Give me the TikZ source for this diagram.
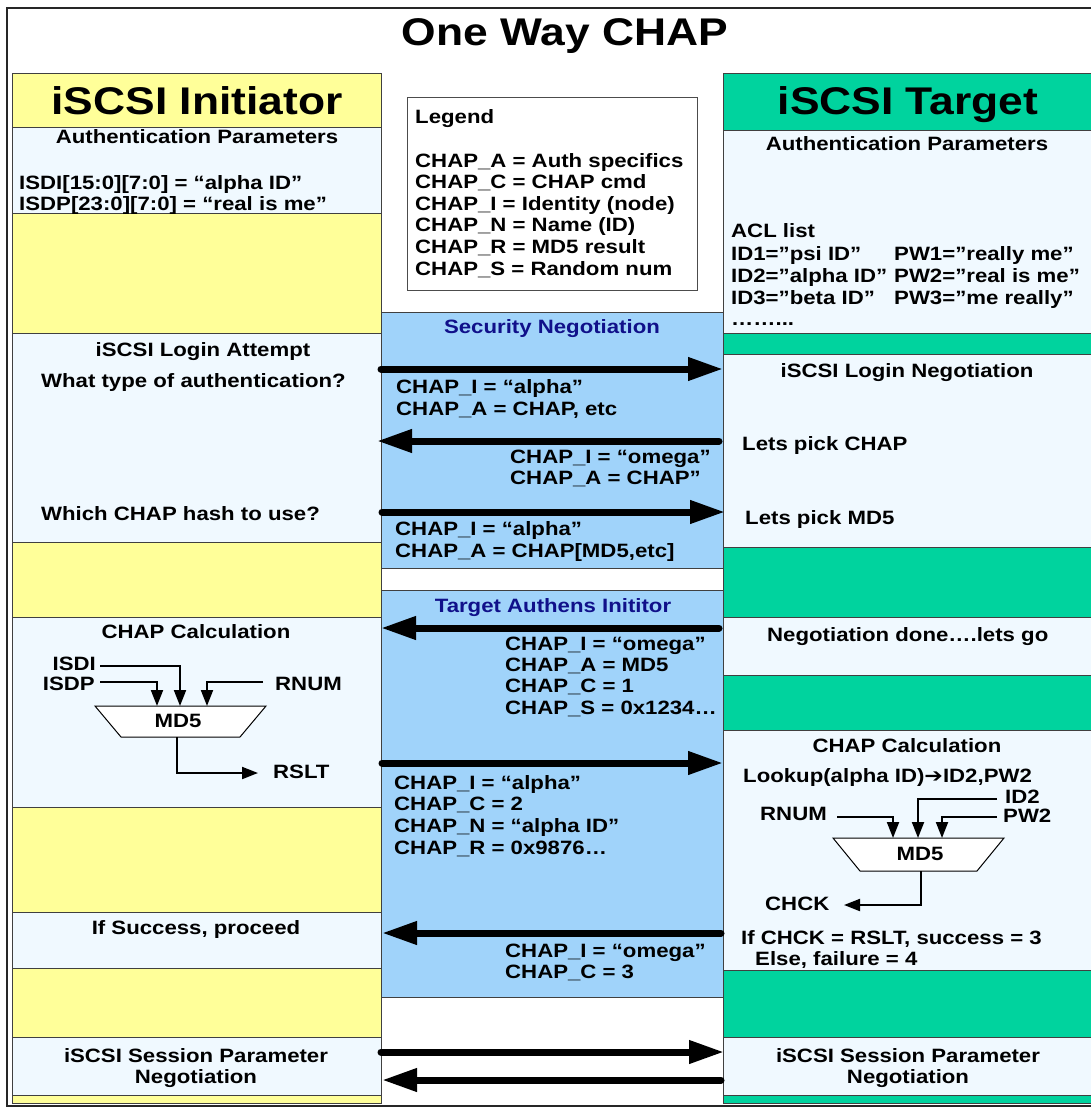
\documentclass[tikz,border=0pt]{standalone}
\usepackage{fontspec}
\setmainfont{Liberation Sans}[FakeStretch=1.15]
\newfontfamily\symfont{DejaVu Sans}[FakeStretch=1.15]
\usetikzlibrary{arrows.meta}
\definecolor{ylw}{HTML}{FFFF99}
\definecolor{lite}{HTML}{F0F9FF}
\definecolor{grn}{HTML}{00D39E}
\definecolor{blu}{HTML}{A0D3FA}
\definecolor{navytxt}{HTML}{10108A}
\definecolor{bord}{HTML}{404040}
\begin{document}
\begin{tikzpicture}[x=1pt,y=-1pt,
  pnl/.style={draw=bord, line width=1pt, inner sep=0pt, outer sep=0pt, anchor=north west},
  txt/.style={inner sep=0pt, anchor=base west, font=\bfseries\fontsize{19.3}{23}\selectfont},
  ctxt/.style={txt, anchor=base},
  big/.style={inner sep=0pt, anchor=base, font=\bfseries\fontsize{38.6}{44}\selectfont},
  msg/.style={line width=7pt, line cap=round, -{Triangle[length=35pt,width=22pt]}},
  sig/.style={line width=2pt, -{Triangle[length=16pt,width=12pt]}}]
\useasboundingbox (0,0) rectangle (1091,1108);
% outer frame
\node[pnl, draw=black!85, line width=2pt, minimum width=1110, minimum height=1098] (frame) at (7,8) {};
\node[big] (title) at (565,46) {One Way CHAP};
% middle blue boxes
\node[pnl, fill=blu, minimum width=342, minimum height=256] (M1) at (381,312) {};
\node[pnl, fill=blu, minimum width=342, minimum height=407] (M2) at (381,590) {};
% left column
\node[pnl, fill=ylw,  minimum width=369, minimum height=53]  (L1) at (12,74) {};
\node[pnl, fill=lite, minimum width=369, minimum height=86]  (L2) at (12,127) {};
\node[pnl, fill=ylw,  minimum width=369, minimum height=120] (L3) at (12,213) {};
\node[pnl, fill=lite, minimum width=369, minimum height=209] (L4) at (12,333) {};
\node[pnl, fill=ylw,  minimum width=369, minimum height=75]  (L5) at (12,542) {};
\node[pnl, fill=lite, minimum width=369, minimum height=190] (L6) at (12,617) {};
\node[pnl, fill=ylw,  minimum width=369, minimum height=105] (L7) at (12,807) {};
\node[pnl, fill=lite, minimum width=369, minimum height=56]  (L8) at (12,912) {};
\node[pnl, fill=ylw,  minimum width=369, minimum height=69]  (L9) at (12,968) {};
\node[pnl, fill=lite, minimum width=369, minimum height=58]  (L10) at (12,1037) {};
\node[pnl, fill=ylw,  minimum width=369, minimum height=8]   (L11) at (12,1095) {};
% right column
\node[pnl, fill=grn,  minimum width=390, minimum height=56]  (R1) at (723,74) {};
\node[pnl, fill=lite, minimum width=390, minimum height=203] (R2) at (723,130) {};
\node[pnl, fill=grn,  minimum width=390, minimum height=21]  (R3) at (723,333) {};
\node[pnl, fill=lite, minimum width=390, minimum height=193] (R4) at (723,354) {};
\node[pnl, fill=grn,  minimum width=390, minimum height=70]  (R5) at (723,547) {};
\node[pnl, fill=lite, minimum width=390, minimum height=58]  (R6) at (723,617) {};
\node[pnl, fill=grn,  minimum width=390, minimum height=55]  (R7) at (723,675) {};
\node[pnl, fill=lite, minimum width=390, minimum height=240] (R8) at (723,730) {};
\node[pnl, fill=grn,  minimum width=390, minimum height=67]  (R9) at (723,970) {};
\node[pnl, fill=lite, minimum width=390, minimum height=58]  (R10) at (723,1037) {};
\node[pnl, fill=grn,  minimum width=390, minimum height=8]   (R11) at (723,1095) {};
% legend
\node[pnl, draw=black!70, fill=white, minimum width=290, minimum height=193] (legend) at (407,97) {};
\node[txt] (lg0) at (415,123) {Legend};
\node[txt] (lg1) at (415,167) {CHAP\_A = Auth specifics};
\node[txt] (lg2) at (415,188.6) {CHAP\_C = CHAP cmd};
\node[txt] (lg3) at (415,210.2) {CHAP\_I = Identity (node)};
\node[txt] (lg4) at (415,231.8) {CHAP\_N = Name (ID)};
\node[txt] (lg5) at (415,253.4) {CHAP\_R = MD5 result};
\node[txt] (lg6) at (415,275) {CHAP\_S = Random num};
% headers
\node[big] (hInit) at (197,114) {iSCSI Initiator};
\node[big] (hTarg) at (908,114) {iSCSI Target};
% auth params
\node[ctxt] (apL) at (197,143) {Authentication Parameters};
\node[txt] (isdiP) at (19,189) {ISDI[15:0][7:0] = “alpha ID”};
\node[txt] (isdpP) at (19,210) {ISDP[23:0][7:0] = “real is me”};
\node[ctxt] (apR) at (907,150) {Authentication Parameters};
\node[txt] (acl) at (731,237) {ACL list};
\node[txt] (id1) at (731,260) {ID1=”psi ID”};
\node[txt] (pw1) at (894,260) {PW1=”really me”};
\node[txt] (id2) at (731,282) {ID2=”alpha ID”};
\node[txt] (pw2) at (894,282) {PW2=”real is me”};
\node[txt] (id3) at (731,304) {ID3=”beta ID”};
\node[txt] (pw3) at (894,304) {PW3=”me really”};
\node[txt] (dots) at (731,325) {……...};
% security negotiation
\node[ctxt, text=navytxt] (secneg) at (552,333) {Security Negotiation};
\node[ctxt] (login) at (203,356) {iSCSI Login Attempt};
\node[txt] (what) at (41,387) {What type of authentication?};
\node[ctxt] (loginneg) at (907,377) {iSCSI Login Negotiation};
\node[txt] (m1a) at (396,393) {CHAP\_I = “alpha”};
\node[txt] (m1b) at (396,415) {CHAP\_A = CHAP, etc};
\node[txt] (m2a) at (510,463) {CHAP\_I = “omega”};
\node[txt] (m2b) at (510,484) {CHAP\_A = CHAP”};
\node[txt] (pickchap) at (742,450) {Lets pick CHAP};
\node[txt] (which) at (41,520) {Which CHAP hash to use?};
\node[txt] (pickmd5) at (745,524) {Lets pick MD5};
\node[txt] (m3a) at (395,535) {CHAP\_I = “alpha”};
\node[txt] (m3b) at (395,557) {CHAP\_A = CHAP[MD5,etc]};
% target authenticates initiator
\node[ctxt, text=navytxt] (tauth) at (553,612) {Target Authens Inititor};
\node[ctxt] (calcL) at (196,638) {CHAP Calculation};
\node[txt] (negdone) at (767,641) {Negotiation done….lets go};
\node[txt] (m4a) at (505,650) {CHAP\_I = “omega”};
\node[txt] (m4b) at (505,671) {CHAP\_A = MD5};
\node[txt] (m4c) at (505,692.5) {CHAP\_C = 1};
\node[txt] (m4d) at (505,714) {CHAP\_S = 0x1234…};
\node[txt] (m5a) at (394,789) {CHAP\_I = “alpha”};
\node[txt] (m5b) at (394,810.5) {CHAP\_C = 2};
\node[txt] (m5c) at (394,832) {CHAP\_N = “alpha ID”};
\node[txt] (m5d) at (394,854) {CHAP\_R = 0x9876…};
% left MD5 block
\node[txt, anchor=base east] (isdi) at (96,670) {ISDI};
\node[txt, anchor=base east] (isdp) at (95,690) {ISDP};
\node[txt] (rnumL) at (275,690) {RNUM};
\draw[line width=1pt, fill=white] (95,706) -- (266,706) -- (240,737) -- (121,737) -- cycle;
\node[ctxt] (md5L) at (178,727) {MD5};
\node[txt] (rslt) at (273,778) {RSLT};
\coordinate (isdiS) at (100,666);
\coordinate (isdpS) at (100,682);
\coordinate (rnumLS) at (263,682);
\coordinate (inL1) at (180,706);
\coordinate (inL2) at (157,706);
\coordinate (inL3) at (207,706);
\coordinate (outL) at (177,737);
\coordinate (rsltT) at (258,773);
\draw[sig] (isdiS) -| (inL1);
\draw[sig] (isdpS) -| (inL2);
\draw[sig] (rnumLS) -| (inL3);
\draw[sig] (outL) |- (rsltT);
% right MD5 block
\node[ctxt] (calcR) at (907,752) {CHAP Calculation};
\node[txt] (lookup) at (743,782) {Lookup(alpha ID){\symfont\bfseries ➔}ID2,PW2};
\node[txt] (id2lbl) at (1005,803) {ID2};
\node[txt] (pw2lbl) at (1003,822) {PW2};
\node[txt] (rnumR) at (760,820) {RNUM};
\draw[line width=1pt, fill=white] (833,838) -- (1004,838) -- (977,871) -- (860,871) -- cycle;
\node[ctxt] (md5R) at (920,860) {MD5};
\node[txt] (chck) at (765,910) {CHCK};
\coordinate (rnumRS) at (837,817);
\coordinate (id2S) at (997,799);
\coordinate (pw2S) at (997,817);
\coordinate (inR1) at (893,838);
\coordinate (inR2) at (918,838);
\coordinate (inR3) at (942,838);
\coordinate (outR) at (921,871);
\coordinate (chckT) at (844,905);
\draw[sig] (rnumRS) -| (inR1);
\draw[sig] (id2S) -| (inR2);
\draw[sig] (pw2S) -| (inR3);
\draw[sig] (outR) |- (chckT);
\node[txt] (ifchck) at (741,944) {If CHCK = RSLT, success = 3};
\node[txt] (elsef) at (755,965) {Else, failure = 4};
\node[ctxt] (ifsucc) at (196,934) {If Success, proceed};
\node[txt] (m6a) at (505,957) {CHAP\_I = “omega”};
\node[txt] (m6b) at (505,978) {CHAP\_C = 3};
% session negotiation
\node[ctxt] (sessL1) at (196,1062) {iSCSI Session Parameter};
\node[ctxt] (sessL2) at (196,1083) {Negotiation};
\node[ctxt] (sessR1) at (908,1062) {iSCSI Session Parameter};
\node[ctxt] (sessR2) at (908,1083) {Negotiation};
% message arrows
\coordinate (a1s) at (381,369);  \coordinate (a1e) at (723,369);
\coordinate (a2s) at (719,441);  \coordinate (a2e) at (377,441);
\coordinate (a3s) at (382,512);  \coordinate (a3e) at (725,512);
\coordinate (a4s) at (719,628);  \coordinate (a4e) at (381,628);
\coordinate (a5s) at (382,763);  \coordinate (a5e) at (723,763);
\coordinate (a6s) at (721,933);  \coordinate (a6e) at (382,933);
\coordinate (a7s) at (381,1052); \coordinate (a7e) at (724,1052);
\coordinate (a8s) at (721,1080); \coordinate (a8e) at (382,1080);
\draw[msg] (a1s) -- (a1e);
\draw[msg] (a2s) -- (a2e);
\draw[msg] (a3s) -- (a3e);
\draw[msg] (a4s) -- (a4e);
\draw[msg] (a5s) -- (a5e);
\draw[msg] (a6s) -- (a6e);
\draw[msg] (a7s) -- (a7e);
\draw[msg] (a8s) -- (a8e);
\end{tikzpicture}
\end{document}
